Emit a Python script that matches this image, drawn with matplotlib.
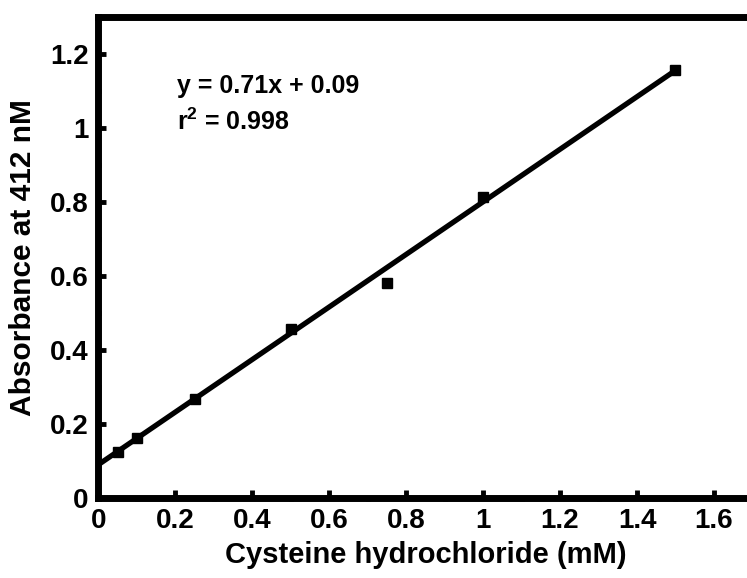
from matplotlib import pyplot as plt
from matplotlib.ticker import MultipleLocator
import numpy as np

plt.rcParams['font.family'] = ['Liberation Sans', 'DejaVu Sans']
plt.rcParams['font.weight'] = 'bold'
plt.rcParams['mathtext.fontset'] = 'custom'
plt.rcParams['mathtext.rm'] = 'Liberation Sans:bold'
plt.rcParams['mathtext.default'] = 'rm'

# standard curve data
conc = [0.05, 0.1, 0.25, 0.5, 0.75, 1.0, 1.5]
absorb = [0.123, 0.163, 0.268, 0.457, 0.581, 0.814, 1.157]
slope = 0.71
icpt = 0.09
xticks = [0, 0.2, 0.4, 0.6, 0.8, 1.0, 1.2, 1.4, 1.6]
xlabs = ['0', '0.2', '0.4', '0.6', '0.8', '1', '1.2', '1.4', '1.6']
yticks = [0, 0.2, 0.4, 0.6, 0.8, 1.0, 1.2]
ylabs = ['0', '0.2', '0.4', '0.6', '0.8', '1', '1.2']

fig = plt.figure(figsize=(7.47, 5.78), dpi=100)
ax = fig.add_axes([0.1316, 0.1384, 0.8757, 0.8327])

xf = np.array([0, 1.5])
ax.plot(xf, slope * xf + icpt, color='black', lw=3.8, solid_capstyle='butt', zorder=2)
ax.plot(conc, absorb, 's', color='black', ms=7.8, zorder=3)

ax.set_xlim(0, 1.7)
ax.set_ylim(0, 1.3)
ax.set_xticks(xticks)
ax.set_xticklabels(xlabs)
ax.set_yticks(yticks)
ax.set_yticklabels(ylabs)
ax.xaxis.set_minor_locator(MultipleLocator(0.1))
ax.yaxis.set_minor_locator(MultipleLocator(0.1))

for s in ax.spines.values():
    s.set_linewidth(5)
ax.spines['right'].set_visible(False)

ax.tick_params(axis='both', which='major', direction='in', length=6, width=3.5,
               labelsize=20, pad=7)
ax.tick_params(axis='x', which='minor', direction='out', length=2.5, width=3.5)
ax.tick_params(axis='y', which='minor', direction='in', length=2.5, width=3.5)

ax.set_xlabel('Cysteine hydrochloride (mM)', fontsize=21, fontweight='bold')
ax.set_ylabel('Absorbance at 412 nM', fontsize=21.5, fontweight='bold')
ax.xaxis.set_label_coords(0.5, -0.089)
ax.yaxis.set_label_coords(-0.093, 0.5)

ax.text(0.205, 1.093, 'y = 0.71x + 0.09', fontsize=18, fontweight='bold', va='baseline')
ax.text(0.205, 0.993, 'r$^2$ = 0.998', fontsize=18, fontweight='bold', va='baseline')

plt.savefig('out.png', dpi=100)
